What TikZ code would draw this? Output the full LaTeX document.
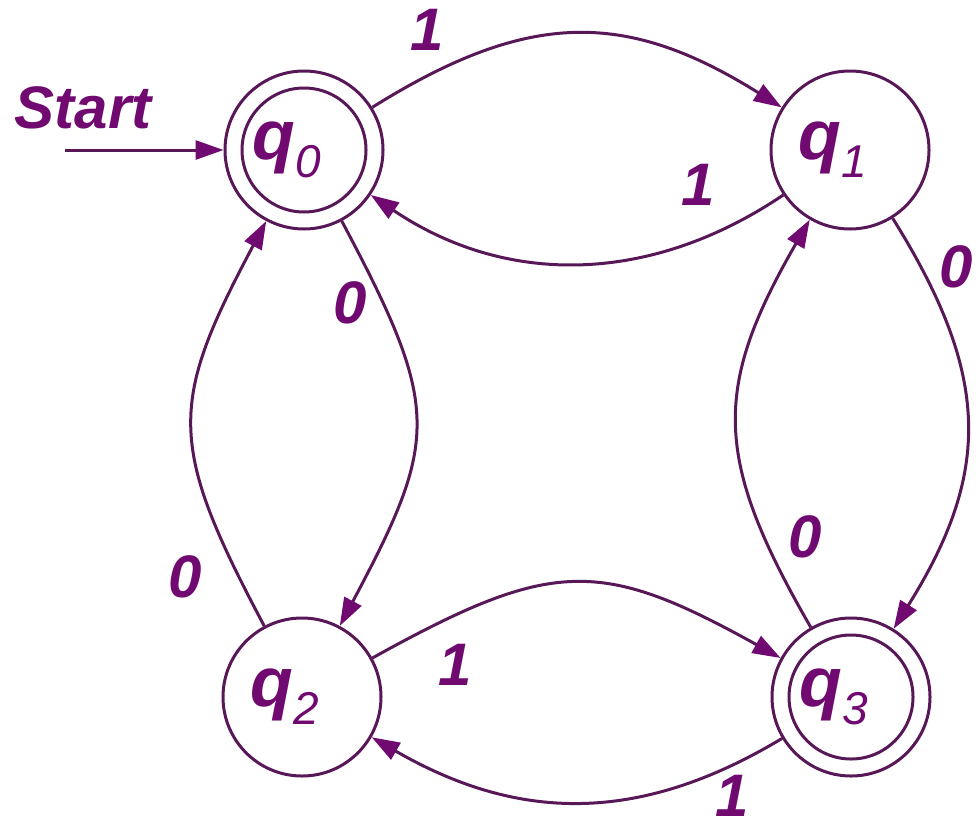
\documentclass[tikz,border=0pt]{standalone}
\usepackage{fontspec}
\setmainfont{Liberation Sans}
\usetikzlibrary{arrows.meta}
\definecolor{linec}{RGB}{88,24,88}
\definecolor{textc}{RGB}{112,10,112}
\newcommand\qlab[1]{{\fontsize{70}{70}\selectfont\bfseries\itshape q}\raisebox{-18pt}{\fontsize{46}{46}\selectfont\itshape #1}\hspace*{34pt}}
\begin{document}
\begin{tikzpicture}[x=1pt,y=1pt,
  state/.style={circle, draw=linec, line width=3pt, minimum size=158pt, inner sep=0pt, text=textc},
  accepting/.style={path picture={\draw[linec, line width=3pt] (path picture bounding box.center) circle (62pt);}},
  trans/.style={draw=linec, line width=3pt, -{Triangle[length=28pt,width=19pt,color=textc]}},
  lab/.style={text=textc, font=\fontsize{60}{60}\selectfont\bfseries\itshape, inner sep=0pt}]
\useasboundingbox (0,0) rectangle (976,-833);
\node[state,accepting] (q0) at (304,-150) {\qlab{0}};
\node[state] (q1) at (850,-150) {\qlab{1}};
\node[state] (q2) at (302,-697) {\qlab{2}};
\node[state,accepting] (q3) at (851,-697) {\qlab{3}};
\coordinate (s) at (65,-150);
\node[lab, font=\fontsize{60}{60}\selectfont\bfseries\itshape] (start) at (83,-108) {Start};
\draw[trans] (s) -- (q0);
% top pair
\draw[trans] (q0.32) .. controls +(32:184) and +(148:184) .. (q1.148);
\draw[trans] (q1.214) .. controls +(214:162) and +(-34:162) .. (q0.-34);
% left pair
\draw[trans] (q2.118) .. controls +(118:207) and +(242:207) .. (q0.242);
\draw[trans] (q0.-62) .. controls +(-62:212) and +(62:212) .. (q2.62);
% right pair
\draw[trans] (q3.120) .. controls +(120:195) and +(240:195) .. (q1.240);
\draw[trans] (q1.-58) .. controls +(-58:185) and +(58:185) .. (q3.58);
% bottom pair
\draw[trans] (q2.29) .. controls +(29:206) and +(151:206) .. (q3.151);
\draw[trans] (q3.211) .. controls +(211:168) and +(-30:168) .. (q2.-30);
% labels
\node[lab] (l1) at (427,-30) {1};
\node[lab] (l2) at (698,-185) {1};
\node[lab] (l3) at (350,-303) {0};
\node[lab] (l4) at (185,-577) {0};
\node[lab] (l5) at (956,-267) {0};
\node[lab] (l6) at (805,-537) {0};
\node[lab] (l7) at (455,-665) {1};
\node[lab] (l8) at (732,-796) {1};
\end{tikzpicture}
\end{document}
